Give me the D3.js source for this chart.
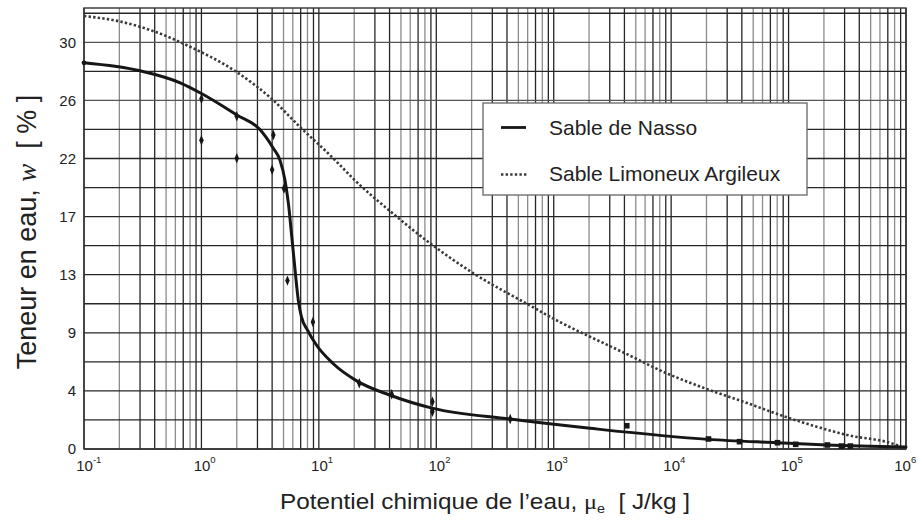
<!DOCTYPE html>
<html><head><meta charset="utf-8">
<script src="https://cdn.jsdelivr.net/npm/d3@7"></script>
<style>
html,body{margin:0;padding:0;background:#fff;}
svg text{font-family:"Liberation Sans",Arial,Helvetica,sans-serif;fill:#222;}
</style></head>
<body><svg id="c" width="919" height="522"></svg>
<script>
// ---- data ----
const nassoX = [0.1, 0.3, 0.66, 1, 2, 3.15, 4.09, 4.67, 5.15, 5.5, 5.88, 6.27, 6.69, 7.1, 8.0, 9.5, 13.2, 21, 40, 94, 425, 2040, 20650, 79000, 212000, 1e6];
const nassoW = [28.9, 28.3, 27.4, 26.6, 25.0, 23.9, 22.5, 21.6, 20.1, 18.4, 15.9, 13.4, 11.1, 9.9, 8.9, 7.8, 6.4, 5.1, 4.04, 3.04, 2.24, 1.55, 0.72, 0.47, 0.30, 0.15];
const argileuxX = [0.1, 0.2, 0.41, 0.8, 2, 3.97, 6.9, 12.4, 15.1, 20.3, 40.4, 91.6, 207, 610, 1130, 2040, 4060, 9180, 20100, 41300, 85000, 314000, 832000, 1e6];
const argileuxW = [32.4, 32.0, 31.2, 30.1, 28.2, 26.2, 24.1, 22.0, 21.25, 20.1, 17.8, 15.3, 13.15, 10.8, 9.5, 8.4, 7.16, 5.66, 4.49, 3.54, 2.54, 1.05, 0.3, 0.0];
const diamondX = [1.0, 1.0, 2.0, 2.0, 4.1, 4.0, 5.05, 5.4, 8.9, 22.1, 41.7, 92.7, 92.7, 426];
const diamondW = [26.2, 23.1, 24.9, 21.75, 23.5, 20.9, 19.5, 12.6, 9.5, 4.92, 4.09, 3.54, 2.79, 2.24];
const squareX = [4190, 20800, 38200, 80400, 115000, 214000, 282000, 336000];
const squareW = [1.74, 0.75, 0.55, 0.47, 0.35, 0.30, 0.22, 0.22];
const yTickValues = [0, 4.348, 8.696, 13.043, 17.391, 21.739, 26.087, 30.435];
const yTickLabels = ["0", "4", "9", "13", "17", "22", "26", "30"];
const yGridValues = [2.174, 6.522, 10.870, 15.217, 19.565, 23.913, 28.261, 32.609];
const xTickExponents = [-1, 0, 1, 2, 3, 4, 5, 6];
const seriesNames = ["Sable de Nasso", "Sable Limoneux Argileux"];

// ---- layout ----
const L = 84, R = 906, T = 8, B = 449;
const svg = d3.select("#c");
const x = d3.scaleLog().domain([0.1, 1e6]).range([L, R]);
const y = d3.scaleLinear().domain([0, 33]).range([B, T]);

const DARK = "#262626", GRAY = "#8c8c8c";
const darkMult = new Set([1, 3, 4, 7, 9]);

// vertical grid
const g = svg.append("g");
x.ticks().forEach(v => {
  const m = Math.round(v / Math.pow(10, Math.floor(Math.log10(v) + 1e-9)));
  g.append("line").attr("x1", x(v)).attr("x2", x(v)).attr("y1", T).attr("y2", B)
    .attr("stroke", darkMult.has(m) ? DARK : GRAY).attr("stroke-width", 1.3);
});
// horizontal grid
yTickValues.concat(yGridValues).forEach((v, i) => {
  g.append("line").attr("x1", L).attr("x2", R).attr("y1", y(v)).attr("y2", y(v))
    .attr("stroke", (i === 7 || i === 6) ? "#555" : DARK).attr("stroke-width", 1.3);
});
// frame
svg.append("rect").attr("x", L).attr("y", T).attr("width", R - L).attr("height", B - T)
  .attr("fill", "none").attr("stroke", "#333").attr("stroke-width", 1.4);

// y axis labels
const yAxis = d3.axisLeft(y).tickValues(yTickValues)
  .tickFormat((d, i) => yTickLabels[i]).tickSize(0).tickPadding(8);
const ya = svg.append("g").attr("transform", `translate(${L},0)`).call(yAxis);
ya.select(".domain").remove();
ya.selectAll("text").attr("font-size", 15).attr("fill", "#222")
  .attr("font-family", "Liberation Sans, Arial, sans-serif");

// x axis labels
const xTickVals = xTickExponents.map(e => Math.pow(10, e));
const xAxis = d3.axisBottom(x).tickValues(xTickVals).tickFormat(() => "").tickSize(0);
const xa = svg.append("g").attr("transform", `translate(0,${B})`).call(xAxis);
xa.select(".domain").remove();
xa.selectAll(".tick").each(function (d, i) {
  const t = d3.select(this).select("text");
  const shift = (i === xTickExponents.length - 1) ? -4 : 0;
  t.attr("y", 0).attr("dy", 0).attr("text-anchor", "start")
    .attr("font-size", 15).attr("fill", "#222")
    .attr("font-family", "Liberation Sans, Arial, sans-serif");
  t.text(null);
  t.append("tspan").attr("x", -8.3 + shift).attr("y", 22).text("10");
  t.append("tspan").attr("y", 14).attr("font-size", 9.5).text(String(xTickExponents[i]));
});

// curves
const line = d3.line().x(d => x(d[0])).y(d => y(d[1])).curve(d3.curveMonotoneX);
const argData = argileuxX.map((v, i) => [v, argileuxW[i]]);
const nasData = nassoX.map((v, i) => [v, nassoW[i]]);
svg.append("path").datum(argData).attr("d", line).attr("fill", "none")
  .attr("stroke", "#3a3a3a").attr("stroke-width", 2.6).attr("stroke-dasharray", "2.4,2.2");
svg.append("path").datum(nasData).attr("d", line).attr("fill", "none")
  .attr("stroke", "#161616").attr("stroke-width", 3).attr("stroke-linecap", "round");
svg.append("circle").attr("cx", x(nassoX[0])).attr("cy", y(nassoW[0])).attr("r", 2.4).attr("fill", "#161616");

// markers
const sym = d3.symbol().type(d3.symbolDiamond).size(24);
diamondX.forEach((v, i) => {
  svg.append("path").attr("d", sym).attr("transform", `translate(${x(v)},${y(diamondW[i])}) scale(0.85,1.15)`)
    .attr("fill", "#161616");
});
squareX.forEach((v, i) => {
  svg.append("rect").attr("x", x(v) - 2.8).attr("y", y(squareW[i]) - 2.8)
    .attr("width", 5.6).attr("height", 5.6).attr("fill", "#161616");
});

// legend
const lg = svg.append("g");
lg.append("rect").attr("x", 483).attr("y", 103).attr("width", 324).attr("height", 92)
  .attr("fill", "#fff").attr("stroke", "#666").attr("stroke-width", 1.3);
lg.append("line").attr("x1", 501).attr("x2", 526).attr("y1", 127.5).attr("y2", 127.5)
  .attr("stroke", "#161616").attr("stroke-width", 2.8);
lg.append("line").attr("x1", 501).attr("x2", 527).attr("y1", 174.5).attr("y2", 174.5)
  .attr("stroke", "#3a3a3a").attr("stroke-width", 2.4).attr("stroke-dasharray", "2.4,2.2");
lg.append("text").attr("x", 549).attr("y", 135).attr("font-size", 21).text(seriesNames[0]);
lg.append("text").attr("x", 549).attr("y", 181).attr("font-size", 21).text(seriesNames[1]);

// axis titles
const xt = svg.append("text").attr("x", 280).attr("y", 509).attr("font-size", 22)
  .attr("textLength", 410).attr("lengthAdjust", "spacingAndGlyphs");
xt.append("tspan").text("Potentiel chimique de l\u2019eau, ");
xt.append("tspan").attr("font-family", "Liberation Serif, Times New Roman, serif").text("\u03bc");
xt.append("tspan").attr("font-size", 13).attr("dy", 4).text("e");
xt.append("tspan").attr("dy", -4).text("\u00a0\u00a0[ J/kg ]");

const yt = svg.append("text").attr("transform", "translate(36,232) rotate(-90)")
  .attr("text-anchor", "middle").attr("font-size", 27);
yt.append("tspan").text("Teneur en eau, ");
yt.append("tspan").attr("font-family", "Liberation Serif, Times New Roman, serif").attr("font-style", "italic").text("w");
yt.append("tspan").text("\u00a0\u00a0[ % ]");
</script></body></html>
